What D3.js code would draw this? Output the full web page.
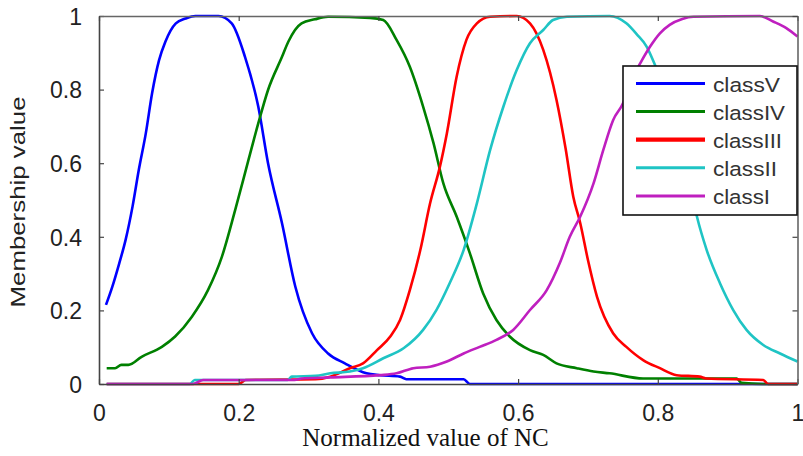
<!DOCTYPE html>
<html>
<head>
<meta charset="utf-8">
<script src="https://cdn.jsdelivr.net/npm/d3@7"></script>
<style>
  body { margin: 0; background: #fff; }
  text { font-family: "Liberation Sans", Arial, sans-serif; fill: #222; }
</style>
</head>
<body>
<div id="chart-holder"></div>
<script>
// DEFINE DATA
// each point is [normalized NC, membership value]
var classV = [[0.01,0.215],[0.019,0.264],[0.029,0.328],[0.038,0.391],[0.048,0.482],[0.057,0.582],[0.067,0.681],[0.076,0.79],[0.086,0.88],[0.095,0.93],[0.11,0.98],[0.124,0.993],[0.138,1],[0.171,1],[0.19,0.98],[0.209,0.889],[0.228,0.754],[0.242,0.6],[0.262,0.437],[0.281,0.265],[0.305,0.138],[0.328,0.083],[0.352,0.056],[0.383,0.029],[0.402,0.024],[0.431,0.02],[0.44,0.013],[0.522,0.013],[0.531,0],[1,0]];
var classIV = [[0.011,0.043],[0.023,0.043],[0.032,0.052],[0.042,0.052],[0.061,0.074],[0.09,0.101],[0.109,0.129],[0.133,0.183],[0.156,0.255],[0.176,0.346],[0.195,0.473],[0.214,0.609],[0.228,0.708],[0.242,0.799],[0.262,0.889],[0.271,0.93],[0.29,0.98],[0.309,0.991],[0.328,0.998],[0.388,0.995],[0.407,0.989],[0.426,0.935],[0.445,0.862],[0.464,0.754],[0.479,0.654],[0.493,0.545],[0.512,0.455],[0.531,0.355],[0.55,0.246],[0.569,0.174],[0.588,0.129],[0.617,0.092],[0.636,0.079],[0.655,0.056],[0.684,0.043],[0.708,0.034],[0.731,0.029],[0.779,0.015],[0.913,0.015],[0.92,0.003],[0.95,0],[1,0]];
var classIII = [[0.011,0],[0.2,0],[0.21,0.011],[0.31,0.013],[0.331,0.02],[0.359,0.043],[0.378,0.056],[0.398,0.092],[0.417,0.129],[0.431,0.174],[0.445,0.255],[0.46,0.364],[0.474,0.491],[0.488,0.59],[0.498,0.681],[0.512,0.835],[0.526,0.935],[0.541,0.98],[0.56,0.998],[0.598,1],[0.617,0.98],[0.636,0.908],[0.655,0.772],[0.668,0.64],[0.679,0.509],[0.689,0.437],[0.7,0.337],[0.713,0.237],[0.736,0.138],[0.755,0.101],[0.779,0.065],[0.803,0.043],[0.827,0.024],[0.86,0.02],[0.869,0.015],[0.951,0.011],[0.958,0],[1,0]];
var classII = [[0.011,0],[0.13,0],[0.137,0.011],[0.27,0.011],[0.276,0.02],[0.31,0.022],[0.331,0.029],[0.359,0.034],[0.378,0.043],[0.407,0.07],[0.436,0.097],[0.464,0.147],[0.483,0.201],[0.502,0.274],[0.522,0.364],[0.541,0.491],[0.56,0.636],[0.579,0.754],[0.598,0.853],[0.617,0.926],[0.636,0.962],[0.65,0.989],[0.67,0.998],[0.731,1],[0.755,0.98],[0.77,0.95],[0.784,0.917],[0.796,0.867],[0.82,0.75],[0.84,0.6],[0.856,0.455],[0.87,0.364],[0.889,0.274],[0.908,0.201],[0.927,0.147],[0.951,0.106],[0.975,0.083],[1,0.061]];
var classI = [[0.011,0],[0.135,0],[0.149,0.011],[0.28,0.011],[0.29,0.015],[0.331,0.018],[0.402,0.024],[0.426,0.029],[0.45,0.043],[0.474,0.047],[0.498,0.061],[0.522,0.083],[0.545,0.101],[0.569,0.12],[0.593,0.147],[0.617,0.201],[0.641,0.255],[0.66,0.33],[0.674,0.4],[0.689,0.455],[0.708,0.545],[0.722,0.636],[0.736,0.717],[0.75,0.762],[0.762,0.825],[0.775,0.872],[0.789,0.917],[0.803,0.953],[0.817,0.976],[0.835,0.992],[0.851,0.998],[0.946,1],[0.965,0.985],[0.984,0.967],[1,0.944]];

var seriesNames = ["classV", "classIV", "classIII", "classII", "classI"];
var seriesData = [classV, classIV, classIII, classII, classI];
var seriesColors = ["#0000ff", "#008000", "#ff0000", "#1fc4c4", "#bf1fbf"];
var xTicks = [0, 0.2, 0.4, 0.6, 0.8, 1];
var yTicks = [0, 0.2, 0.4, 0.6, 0.8, 1];

// DEFINE SIZES
// (plotTop etc. because "top" is taken by window.top)
var w = 803, h = 456;
var plotLeft = 99, plotRight = 797.5, plotTop = 16, plotBottom = 384;

var x = d3.scaleLinear().domain([0, 1]).range([plotLeft, plotRight]);
var y = d3.scaleLinear().domain([0, 1]).range([plotBottom, plotTop]);

var line = d3.line()
  .x(function (d) { return x(d[0]); })
  .y(function (d) { return y(d[1]); })
  .curve(d3.curveMonotoneX);

var svg = d3
  .select("#chart-holder")
  .append("svg")
  .attr("width", w)
  .attr("height", h);

// curves, drawn in legend order so magenta sits on top
svg.append("g")
  .selectAll("path")
  .data(seriesData)
  .enter()
  .append("path")
  .attr("d", line)
  .attr("fill", "none")
  .attr("stroke", function (d, i) { return seriesColors[i]; })
  .attr("stroke-width", 2.6)
  .attr("stroke-linejoin", "round");

// axes with inward ticks, matlab style box
var axisColor = "#444";
function styleTicks(g, frameColor) {
  g.select(".domain").attr("stroke", frameColor).attr("stroke-width", 1.6);
  g.selectAll(".tick line").attr("stroke", axisColor).attr("stroke-width", 1.2);
}

svg.append("g")
  .attr("transform", "translate(0," + plotBottom + ")")
  .call(d3.axisBottom(x).tickValues(xTicks).tickSizeInner(-5).tickSizeOuter(0).tickFormat(d3.format("")))
  .call(function (g) {
    styleTicks(g, axisColor);
    g.selectAll(".tick text").attr("y", 37).attr("dy", 0).attr("font-size", 23).attr("fill", "#2a2a2a")
      .attr("font-family", "Liberation Sans, Arial, sans-serif");
  });

svg.append("g")
  .attr("transform", "translate(" + plotLeft + ",0)")
  .call(d3.axisLeft(y).tickValues(yTicks).tickSizeInner(-5).tickSizeOuter(0).tickFormat(d3.format("")))
  .call(function (g) {
    styleTicks(g, axisColor);
    g.selectAll(".tick text").attr("x", -17).attr("dy", "0.36em").attr("font-size", 23).attr("fill", "#2a2a2a")
      .attr("font-family", "Liberation Sans, Arial, sans-serif");
  });

svg.append("g")
  .attr("transform", "translate(0," + plotTop + ")")
  .call(d3.axisTop(x).tickValues(xTicks).tickSizeInner(-5).tickSizeOuter(0).tickFormat(""))
  .call(function (g) { styleTicks(g, "#666"); });

svg.append("g")
  .attr("transform", "translate(" + plotRight + ",0)")
  .call(d3.axisRight(y).tickValues(yTicks).tickSizeInner(-5).tickSizeOuter(0).tickFormat(""))
  .call(function (g) { styleTicks(g, "#666"); });

// axis titles
svg.append("text")
  .attr("transform", "translate(25,202) rotate(-90)")
  .attr("text-anchor", "middle")
  .attr("font-size", 21)
  .attr("textLength", 211)
  .attr("lengthAdjust", "spacingAndGlyphs")
  .text("Membership value");

svg.append("text")
  .attr("x", 425.5)
  .attr("y", 446)
  .attr("text-anchor", "middle")
  .attr("font-size", 25)
  .style("font-family", "'Liberation Serif', 'Times New Roman', serif")
  .style("fill", "#111")
  .text("Normalized value of NC");

// LEGEND
var legend = svg.append("g").attr("class", "legend");
legend.append("rect")
  .attr("x", 623)
  .attr("y", 66)
  .attr("width", 174)
  .attr("height", 149)
  .attr("fill", "#fff")
  .attr("stroke", "#111")
  .attr("stroke-width", 1.6);

var legendWidths = [67, 72, 69, 64, 57];
var rows = legend.selectAll("g.row")
  .data(seriesNames)
  .enter()
  .append("g")
  .attr("class", "row")
  .attr("transform", function (d, i) { return "translate(0," + (83.5 + i * 28.1) + ")"; });

rows.append("line")
  .attr("x1", 636)
  .attr("x2", 705)
  .attr("stroke", function (d, i) { return seriesColors[i]; })
  .attr("stroke-width", function (d, i) { return i === 2 ? 4.2 : 3; });

rows.append("text")
  .attr("x", 713)
  .attr("y", 8.5)
  .attr("font-size", 20.5)
  .attr("textLength", function (d, i) { return legendWidths[i]; })
  .attr("lengthAdjust", "spacingAndGlyphs")
  .style("fill", "#333")
  .text(function (d) { return d; });
</script>
</body>
</html>
